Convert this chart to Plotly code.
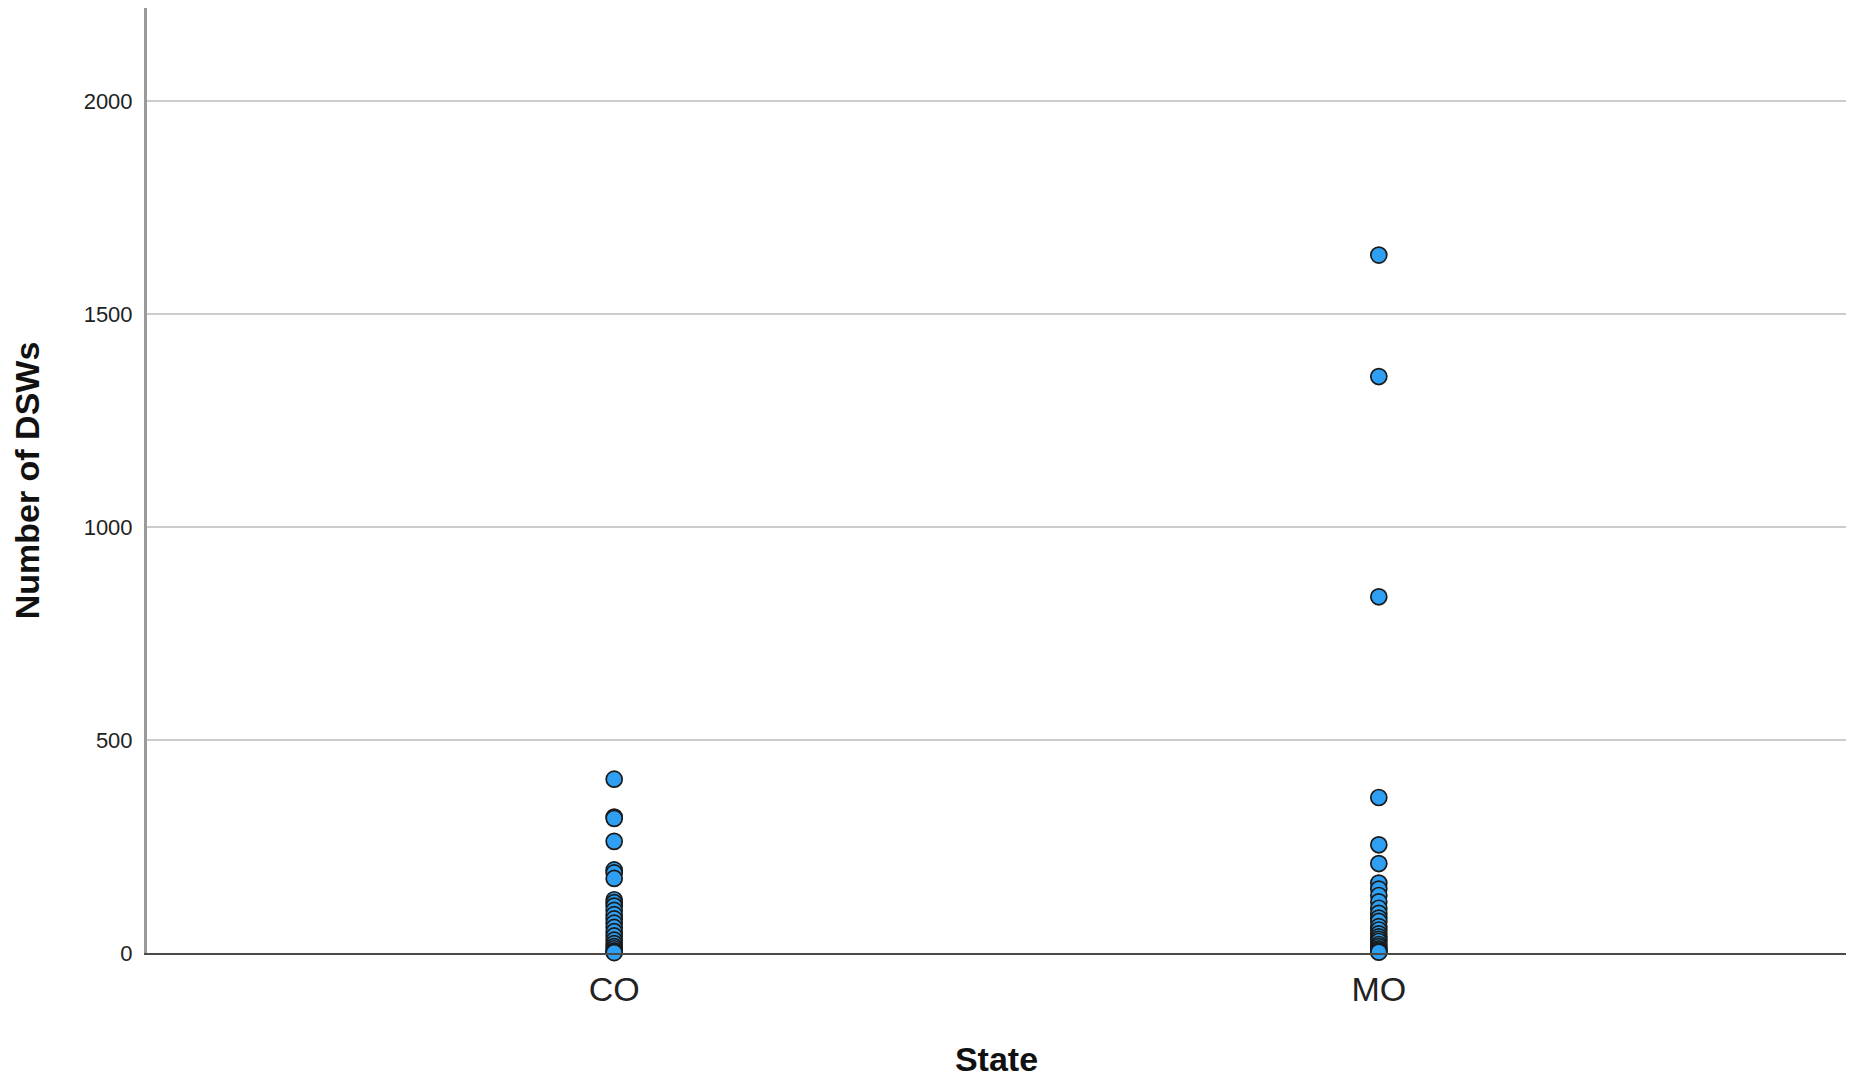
import plotly.graph_objects as go

states = ["CO", "MO"]
co_values = [408, 319, 316, 262, 195, 188, 175, 125, 118, 110, 100, 90, 80, 70, 60, 50, 40, 30, 22, 15, 10, 5, 3, 1]
mo_values = [1638, 1353, 836, 365, 254, 210, 164, 150, 135, 120, 105, 93, 82, 74, 62, 54, 45, 38, 32, 27, 20, 15, 10, 7, 4, 2]
y_ticks = [0, 500, 1000, 1500, 2000]

xs = [states[0]] * len(co_values) + [states[1]] * len(mo_values)
ys = co_values + mo_values

fig = go.Figure()
fig.add_trace(go.Scatter(
    x=xs, y=ys, mode="markers",
    marker=dict(size=16, color="#2e9ff2", line=dict(color="#1a1a1a", width=1.7)),
    cliponaxis=False, showlegend=False,
))

fig.update_layout(
    width=1858, height=1078,
    margin=dict(l=139, r=20, t=0, b=133, autoexpand=False),
    paper_bgcolor="white", plot_bgcolor="white",
    font=dict(family="Liberation Sans, Arial, sans-serif", color="#222"),
)
fig.update_xaxes(
    type="category", categoryorder="array", categoryarray=states,
    range=[-0.611, 1.611],
    showgrid=False, zeroline=False,
    showline=True, linecolor="#4a4a4a", linewidth=2,
    ticks="", tickfont=dict(size=34, color="#222"),
    ticklabelstandoff=5,
    title=dict(text="<b>State</b>", font=dict(size=34, color="#111"), standoff=40),
    automargin=False,
)
fig.update_yaxes(
    range=[0, 2218],
    tickvals=y_ticks, ticktext=[str(v) for v in y_ticks],
    showgrid=True, gridcolor="#cccccc", gridwidth=2,
    zeroline=False,
    showline=True, linecolor="#9a9a9a", linewidth=3,
    ticks="", tickfont=dict(size=22, color="#222"),
    ticklabelstandoff=7,
    title=dict(text="<b>Number of DSWs</b>", font=dict(size=34, color="#111"), standoff=35),
    automargin=False,
)

fig.write_html("out.html")
